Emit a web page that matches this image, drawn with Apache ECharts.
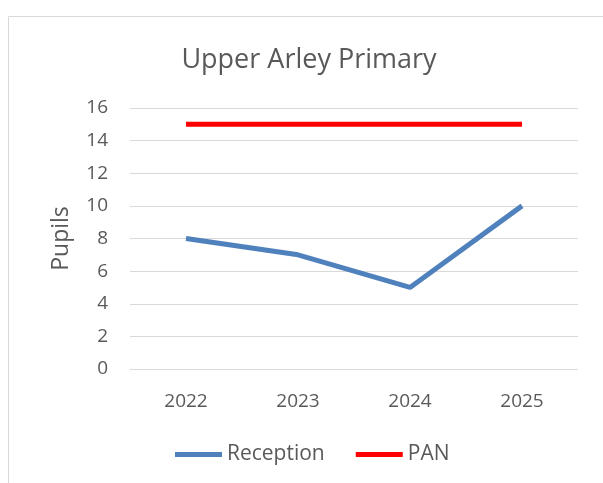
<!DOCTYPE html>
<html lang="en">
<head>
    <meta charset="UTF-8">
    <script src="https://cdn.jsdelivr.net/npm/echarts@6/dist/echarts.min.js"></script>
    <title>Upper Arley Primary</title>
    <style>
        html, body { margin: 0; padding: 0; background: #fff; }
    </style>
</head>
<body>
<div id="chart" style="width: 603px;height:483px;"></div>
<script type="text/javascript">
    var years = ['2022', '2023', '2024', '2025'];
    var reception = [8, 7, 5, 10];
    var pan = [15, 15, 15, 15];

    var myChart = echarts.init(document.getElementById('chart'));
    var fontName = 'Open Sans';

    var option = {
        animation: false,
        graphic: [{
            type: 'rect',
            shape: { x: 8.5, y: 16.5, width: 700, height: 600 },
            style: { fill: 'none', stroke: '#d9d9d9', lineWidth: 1 },
            silent: true
        }],
        title: {
            text: 'Upper Arley Primary',
            left: 304,
            textAlign: 'center',
            top: 42,
            textStyle: { fontFamily: fontName, fontSize: 27, fontWeight: 'normal', color: '#595959' }
        },
        legend: {
            bottom: 13,
            left: 170,
            itemWidth: 47,
            itemHeight: 5,
            itemGap: 31,
            icon: 'rect',
            textStyle: { fontFamily: fontName, fontSize: 21, color: '#595959' },
            data: ['Reception', 'PAN']
        },
        grid: { left: 130, right: 25, top: 108, bottom: 114 },
        xAxis: {
            type: 'category',
            data: years,
            axisLine: { show: false },
            axisTick: { show: false },
            axisLabel: { fontFamily: fontName, fontSize: 19, color: '#595959', margin: 23 }
        },
        yAxis: {
            type: 'value',
            min: 0,
            max: 16,
            interval: 2,
            name: 'Pupils',
            nameLocation: 'middle',
            nameGap: 57,
            nameRotate: 90,
            nameTextStyle: { fontFamily: fontName, fontSize: 23, color: '#595959' },
            axisLabel: { fontFamily: fontName, fontSize: 19, color: '#595959', margin: 22 },
            splitLine: { lineStyle: { color: '#d9d9d9', width: 1 } }
        },
        series: [
            {
                name: 'Reception',
                type: 'line',
                data: reception,
                showSymbol: false,
                lineStyle: { color: '#4f81bd', width: 5 },
                itemStyle: { color: '#4f81bd' }
            },
            {
                name: 'PAN',
                type: 'line',
                data: pan,
                showSymbol: false,
                lineStyle: { color: '#ff0000', width: 5 },
                itemStyle: { color: '#ff0000' }
            }
        ]
    };
    myChart.setOption(option);
</script>
</body>
</html>
